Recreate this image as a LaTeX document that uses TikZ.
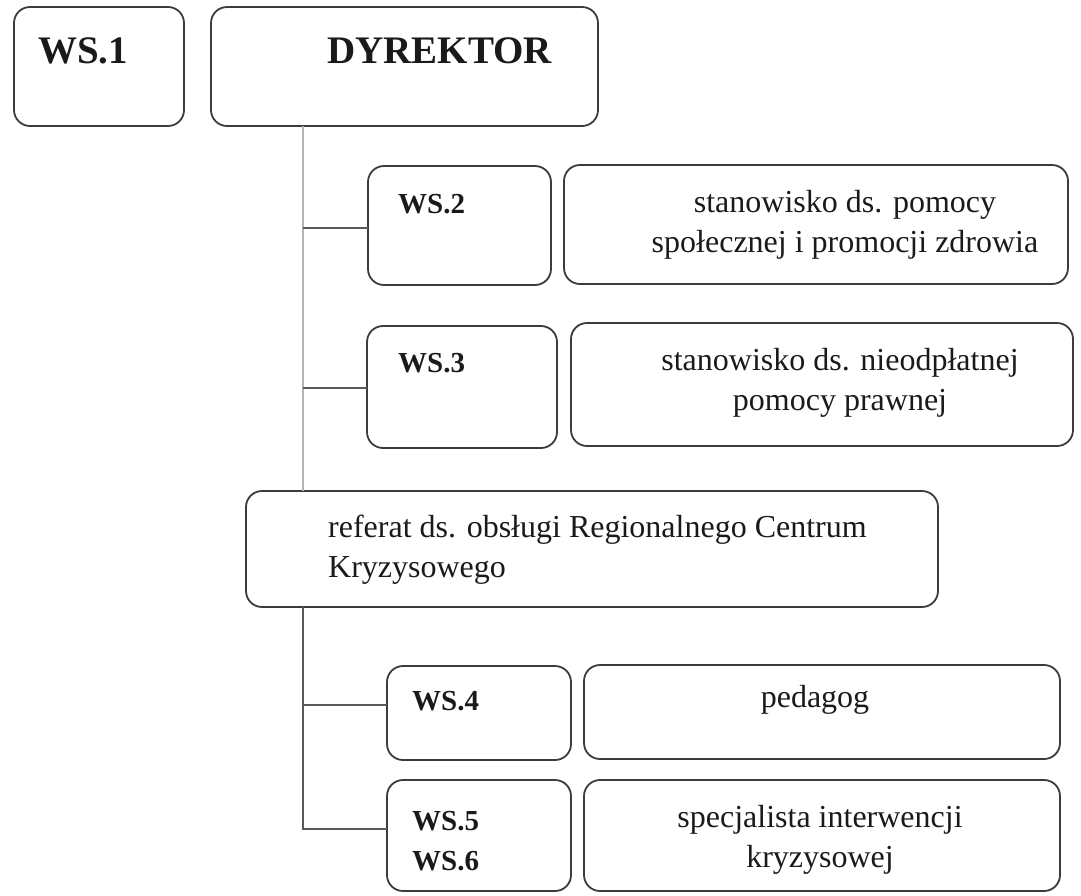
\documentclass[tikz,border=0pt]{standalone}
\usepackage{fontspec}
\setmainfont{Liberation Serif}
\definecolor{boxline}{HTML}{3C3C3C}
\definecolor{lightline}{HTML}{B4B4B4}
\definecolor{txt}{HTML}{1A1A1A}
\begin{document}
\begin{tikzpicture}[x=1pt,y=-1pt,
  box/.style={draw=boxline, line width=1.8pt, rounded corners=16pt},
  conn/.style={draw=boxline!85, line width=1.8pt},
  trunklight/.style={draw=lightline, line width=1.3pt},
  bigbold/.style={text=txt, font=\fontsize{39}{46}\selectfont\bfseries, inner sep=0pt},
  wsbold/.style={text=txt, font=\fontsize{29}{40}\selectfont\bfseries, inner sep=0pt},
  body/.style={text=txt, font=\fontsize{32}{40}\selectfont, inner sep=0pt}]
\useasboundingbox (0,0) rectangle (1081,895);
% boxes
\path[box] (14,7) rectangle (184,126);
\coordinate (ws1) at (14,7);
\path[box] (211,7) rectangle (598,126);
\coordinate (dyr) at (211,126);
\path[box] (368,166) rectangle (551,285);
\coordinate (ws2) at (368,228);
\path[box] (564,165) rectangle (1068,284);
\path[box] (367,326) rectangle (557,448);
\coordinate (ws3) at (367,388);
\path[box] (571,323) rectangle (1073,446);
\path[box] (246,491) rectangle (938,607);
\coordinate (reftop) at (303,491);
\coordinate (refbot) at (303,607);
\path[box] (387,666) rectangle (571,760);
\coordinate (ws4) at (387,705);
\path[box] (584,665) rectangle (1060,759);
\path[box] (387,780) rectangle (571,891);
\coordinate (ws5) at (387,829);
\path[box] (584,780) rectangle (1060,891);
% trunk
\coordinate (top) at (303,126);
\path[trunklight] (top) -- (reftop);
\path[conn] (ws2) -- (ws2 -| top);
\path[conn] (ws3) -- (ws3 -| top);
\path[conn] (refbot) -- (refbot |- ws5) -- (ws5);
\path[conn] (ws4) -- (ws4 -| top);
% texts
\node[bigbold, anchor=base west] (t1) at (38,63) {WS.1};
\node[bigbold, anchor=base west] (tdyr) at (327,63) {DYREKTOR};
\node[wsbold, anchor=base west] (t2) at (398,213) {WS.2};
\node[body, anchor=base] (t2a) at (845,212) {stanowisko ds. pomocy};
\node[body, anchor=base] (t2b) at (845,252) {społecznej i promocji zdrowia};
\node[wsbold, anchor=base west] (t3) at (398,372) {WS.3};
\node[body, anchor=base] (t3a) at (840,370) {stanowisko ds. nieodpłatnej};
\node[body, anchor=base] (t3b) at (840,410) {pomocy prawnej};
\node[body, anchor=base west] (tra) at (328,537) {referat ds. obsługi Regionalnego Centrum};
\node[body, anchor=base west] (trb) at (328,577) {Kryzysowego};
\node[wsbold, anchor=base west] (t4) at (412,710) {WS.4};
\node[body, anchor=base] (t4a) at (815,707) {pedagog};
\node[wsbold, anchor=base west] (t5) at (412,830) {WS.5};
\node[wsbold, anchor=base west] (t6) at (412,870) {WS.6};
\node[body, anchor=base] (t5a) at (820,827) {specjalista interwencji};
\node[body, anchor=base] (t5b) at (820,867) {kryzysowej};
\end{tikzpicture}
\end{document}
